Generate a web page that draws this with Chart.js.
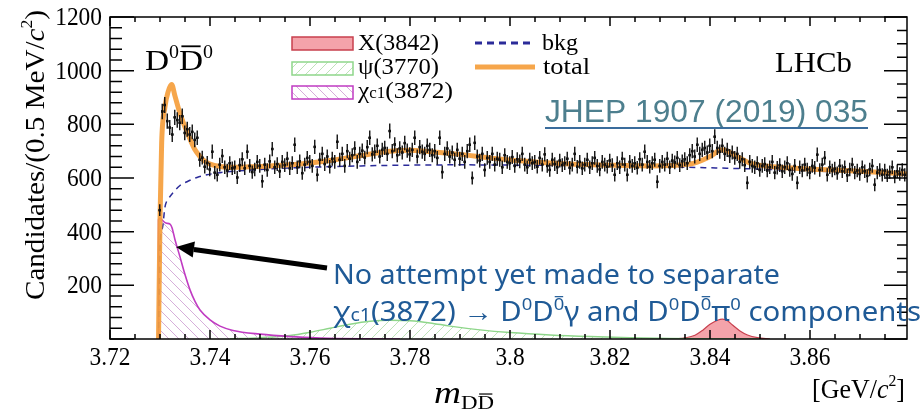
<!DOCTYPE html>
<html>
<head>
<meta charset="utf-8">
<script src="https://cdn.jsdelivr.net/npm/chart.js@4.4.1/dist/chart.umd.min.js"></script>
<style>
  html, body { margin: 0; padding: 0; background: #fff; }
  #wrap { width: 922px; height: 419px; }
</style>
</head>
<body>
<div id="wrap"><canvas id="chart" width="922" height="419"></canvas></div>
<script>
// histogram: D0 D0bar mass, 0.5 MeV bins starting at threshold
const massLow = 3.7297;
const binWidth = 0.0005;
const counts = [
  480, 848, 872, 812, 788, 762, 826, 816, 806, 830,
  768, 782, 762, 772, 742, 750, 668, 676, 642, 656,
  632, 698, 620, 612, 650, 682, 640, 628, 655, 636,
  640, 602, 648, 670, 636, 698, 645, 622, 632, 660,
  645, 588, 650, 630, 662, 708, 640, 652, 625, 660,
  648, 672, 636, 655, 724, 640, 662, 618, 650, 675,
  660, 645, 716, 612, 668, 690, 652, 680, 642, 672,
  660, 735, 668, 690, 645, 700, 672, 685, 710, 660,
  690, 702, 676, 715, 750, 688, 698, 720, 680, 705,
  712, 690, 775, 700, 725, 685, 710, 695, 730, 702,
  688, 705, 750, 680, 715, 698, 690, 720, 705, 685,
  700, 675, 750, 622, 690, 710, 680, 695, 668, 705,
  672, 690, 660, 700, 724, 600, 731, 680, 665, 690,
  630, 675, 660, 690, 650, 672, 668, 640, 685, 660,
  655, 678, 645, 670, 662, 690, 650, 640, 668, 655,
  660, 642, 675, 650, 688, 645, 630, 668, 652, 640,
  665, 648, 655, 672, 638, 650, 690, 642, 660, 636,
  650, 668, 640, 655, 675, 645, 632, 660, 650, 642,
  665, 648, 612, 655, 640, 672, 650, 612, 660, 645,
  655, 638, 670, 650, 698, 660, 642, 655, 668, 586,
  645, 660, 650, 672, 640, 665, 658, 675, 648, 662,
  670, 655, 685, 700, 680, 724, 690, 705, 712, 695,
  720, 700, 754, 712, 698, 720, 690, 705, 682, 695,
  675, 690, 660, 670, 648, 582, 660, 645, 640, 655,
  630, 645, 652, 628, 640, 660, 620, 638, 648, 625,
  640, 655, 630, 615, 645, 582, 640, 628, 650, 632,
  620, 645, 638, 687, 630, 650, 675, 612, 640, 628,
  635, 618, 645, 625, 640, 610, 632, 650, 620, 628,
  615, 640, 625, 608, 632, 645, 575, 620, 630, 612,
  628, 610, 622, 640, 605, 625, 615, 630, 612
];

// fit components
const totalX = [3.7297, 3.7300, 3.73033, 3.7310, 3.7316, 3.73233, 3.7330, 3.7340, 3.7350, 3.7360,
  3.7370, 3.7380, 3.7390, 3.7400, 3.7420, 3.7440, 3.7480, 3.7520, 3.7580, 3.7640, 3.7700, 3.7760,
  3.7800, 3.7840, 3.7900, 3.7960, 3.8020, 3.8080, 3.8180, 3.8280, 3.8360, 3.8400, 3.8424, 3.8450,
  3.8480, 3.8540, 3.8620, 3.8700, 3.8794];
const totalY = [0, 444, 731, 866, 920, 948, 905, 840, 790, 745,
  705, 680, 662, 652, 643, 640, 642, 645, 652, 665, 683, 700,
  703, 698, 688, 675, 664, 656, 648, 645, 652, 680, 705, 685,
  655, 640, 632, 625, 615];

const bkgX = [3.7297, 3.72985, 3.7300, 3.73053, 3.7310, 3.7318, 3.7326, 3.7340, 3.7354, 3.7374,
  3.7394, 3.7420, 3.7460, 3.7520, 3.7600, 3.7700, 3.7800, 3.7900, 3.8000, 3.8100, 3.8200,
  3.8300, 3.8400, 3.8500, 3.8600, 3.8700, 3.8794];
const bkgY = [0, 200, 343, 418, 492, 525, 545, 572, 586, 602,
  612, 620, 627, 634, 640, 645, 648, 649, 648, 647, 645,
  642, 638, 633, 627, 620, 613];

const chicX = [3.7297, 3.72971, 3.7300, 3.7306, 3.7312, 3.7320, 3.7324, 3.7330, 3.7340, 3.7350,
  3.7360, 3.7370, 3.7380, 3.7400, 3.7420, 3.7446, 3.7500, 3.7560, 3.7620, 3.7700, 3.7780];
const chicY = [0, 445, 450, 440, 432, 428, 415, 370, 306, 240,
  183, 140, 108, 71, 48, 32, 18, 9, 4, 1, 0];

const psiX = [3.7440, 3.7500, 3.7560, 3.7600, 3.7640, 3.7680, 3.7720, 3.7760, 3.7800, 3.7840,
  3.7880, 3.7940, 3.8000, 3.8080, 3.8160, 3.8240, 3.8320, 3.8400, 3.8500];
const psiY = [0, 5, 13, 25, 40, 55, 66, 70, 68, 60,
  48, 34, 24, 15, 9, 5, 2, 1, 0];

const x3842X = [3.8330, 3.8350, 3.8370, 3.8385, 3.8400, 3.8415, 3.8425, 3.8435, 3.8445, 3.8460,
  3.8475, 3.8495, 3.8520];
const x3842Y = [0, 4, 14, 32, 55, 70, 74, 68, 52, 30, 15, 5, 0];

const xTicks = [3.72, 3.74, 3.76, 3.78, 3.80, 3.82, 3.84, 3.86];
const yTicks = [200, 400, 600, 800, 1000, 1200];

const serif = "Liberation Serif, serif";
const sans = "Noto Sans, Liberation Sans, sans-serif";

const canvas = document.getElementById('chart');
const ctx0 = canvas.getContext('2d');

function hatch(color, dir, size) {
    const tile = document.createElement('canvas');
    tile.width = tile.height = size;
    const g = tile.getContext('2d');
    g.strokeStyle = color;
    g.lineWidth = 1;
    g.beginPath();
    for (let k = -size; k <= size; k += size) {
        if (dir > 0) { g.moveTo(k, size); g.lineTo(k + size, 0); }
        else { g.moveTo(k, 0); g.lineTo(k + size, size); }
    }
    g.stroke();
    return ctx0.createPattern(tile, 'repeat');
}

const pts = (xs, ys) => xs.map((v, i) => ({ x: v, y: ys[i] }));

// text made of runs, squeezed/stretched to a given width (or by a factor)
function drawRuns(ctx, runs, x, y, fit, squeeze) {
    let w = 0;
    runs.forEach(r => {
        ctx.font = (r.it ? 'italic ' : '') + r.size + 'px ' + r.fam;
        r.w = ctx.measureText(r.t).width;
        w += r.w;
    });
    const sx = fit ? fit / w : (squeeze || 1);
    ctx.save();
    ctx.translate(x, y);
    ctx.scale(sx, 1);
    let cx = 0;
    runs.forEach(r => {
        ctx.font = (r.it ? 'italic ' : '') + r.size + 'px ' + r.fam;
        const dy = r.dy || 0;
        ctx.fillText(r.t, cx, dy);
        if (r.bar) {
            ctx.fillRect(cx + r.w * 0.1, dy - r.size * 0.82, r.w * 0.8, Math.max(1.2, r.size * 0.06));
        }
        cx += r.w;
    });
    ctx.restore();
    return w * sx;
}

const S = (t, size, o) => Object.assign({ t: t, size: size, fam: serif }, o || {});
const N = (t, size, o) => Object.assign({ t: t, size: size, fam: sans }, o || {});

const decor = {
    id: 'decor',
    afterDatasetsDraw(chart) {
        const { ctx, chartArea: a, scales: { x, y } } = chart;

        // error bars
        ctx.save();
        ctx.beginPath();
        ctx.rect(a.left, a.top, a.right - a.left, a.bottom - a.top);
        ctx.clip();
        ctx.strokeStyle = '#111';
        ctx.lineWidth = 1.4;
        ctx.beginPath();
        counts.forEach((n, i) => {
            const m = massLow + binWidth * (i + 0.5);
            const e = Math.sqrt(n);
            const px = x.getPixelForValue(m);
            const py = y.getPixelForValue(n);
            ctx.moveTo(px, y.getPixelForValue(n - e));
            ctx.lineTo(px, y.getPixelForValue(n + e));
            ctx.moveTo(x.getPixelForValue(m - binWidth / 2), py);
            ctx.lineTo(x.getPixelForValue(m + binWidth / 2), py);
        });
        ctx.stroke();
        ctx.restore();

        // frame and inward ticks
        ctx.save();
        ctx.strokeStyle = '#000';
        ctx.lineWidth = 1.5;
        ctx.strokeRect(a.left, a.top, a.right - a.left, a.bottom - a.top);
        ctx.beginPath();
        for (let k = 0; ; k++) {
            const v = 3.72 + k * 0.005;
            if (v > x.max) break;
            const px = x.getPixelForValue(v);
            const len = k % 4 === 0 ? 9 : 5;
            ctx.moveTo(px, a.bottom); ctx.lineTo(px, a.bottom - len);
            ctx.moveTo(px, a.top); ctx.lineTo(px, a.top + len);
        }
        for (let v = 0; v <= 1200; v += 40) {
            const py = y.getPixelForValue(v);
            const len = v % 200 === 0 ? 24 : 12;
            ctx.moveTo(a.left, py); ctx.lineTo(a.left + len, py);
        }
        for (let v = 0; v <= 1200; v += 50) {
            const py = y.getPixelForValue(v);
            const len = v % 200 === 0 ? 23 : 10;
            ctx.moveTo(a.right, py); ctx.lineTo(a.right - len, py);
        }
        ctx.stroke();

        // tick labels from the scales' own ticks
        ctx.fillStyle = '#000';
        ctx.textBaseline = 'alphabetic';
        const fs = 26, sq = 0.9;
        x.ticks.forEach(t => {
            const lbl = String(+t.value.toFixed(2));
            ctx.font = fs + 'px ' + serif;
            const w = ctx.measureText(lbl).width * sq;
            drawRuns(ctx, [S(lbl, fs)], x.getPixelForValue(t.value) - w / 2, a.bottom + 26, 0, sq);
        });
        y.ticks.forEach(t => {
            const lbl = String(t.value);
            ctx.font = fs + 'px ' + serif;
            const w = ctx.measureText(lbl).width * sq;
            drawRuns(ctx, [S(lbl, fs)], a.left - 8 - w, y.getPixelForValue(t.value) + 8, 0, sq);
        });
        ctx.restore();
    },
    afterDraw(chart) {
        const ctx = chart.ctx;
        const ds = chart.data.datasets;
        ctx.save();
        ctx.fillStyle = '#000';
        ctx.textBaseline = 'alphabetic';

        // y title, rotated
        ctx.save();
        ctx.translate(44, 300);
        ctx.rotate(-Math.PI / 2);
        drawRuns(ctx, [S('Candidates/(0.5 MeV/', 28), S('c', 28, { it: true }), S('2', 17, { dy: -12 }), S(')', 28)], 0, 0, 290);
        ctx.restore();

        // x title
        drawRuns(ctx, [S('m', 31, { it: true }), S('D', 19, { dy: 6 }), S('D', 19, { dy: 6, bar: true })], 434, 403, 60);
        drawRuns(ctx, [S('[GeV/', 28), S('c', 28, { it: true }), S('2', 17, { dy: -12 }), S(']', 28)], 812, 398, 93);

        // labels inside the frame
        drawRuns(ctx, [S('LHCb', 30)], 775, 72, 77);
        drawRuns(ctx, [S('D', 30), S('0', 18, { dy: -12 }), S('D', 30, { bar: true }), S('0', 18, { dy: -12 })], 145, 70, 68);

        // legend
        const boxes = [[ds[5], 37], [ds[4], 62], [ds[3], 86]];
        boxes.forEach(([d, top]) => {
            ctx.fillStyle = '#fff';
            ctx.fillRect(292, top, 61, 13);
            ctx.fillStyle = d.backgroundColor;
            ctx.fillRect(292, top, 61, 13);
            ctx.strokeStyle = d.borderColor;
            ctx.lineWidth = 1.5;
            ctx.strokeRect(292, top, 61, 13);
        });
        ctx.fillStyle = '#000';
        drawRuns(ctx, [S('X(3842)', 24)], 358, 50, 81);
        drawRuns(ctx, [S('\u03c8(3770)', 24)], 358, 74, 81);
        drawRuns(ctx, [S('\u03c7', 24), S('c1', 16), S('(3872)', 24)], 358, 98, 95);

        ctx.strokeStyle = ds[2].borderColor;
        ctx.lineWidth = 3;
        ctx.setLineDash([7, 5]);
        ctx.beginPath(); ctx.moveTo(475, 43); ctx.lineTo(531, 43); ctx.stroke();
        ctx.setLineDash([]);
        ctx.strokeStyle = ds[1].borderColor;
        ctx.lineWidth = 5;
        ctx.beginPath(); ctx.moveTo(475, 67); ctx.lineTo(535, 67); ctx.stroke();
        ctx.fillStyle = '#000';
        drawRuns(ctx, [S('bkg', 24)], 542, 50, 36);
        drawRuns(ctx, [S('total', 24)], 543, 74, 47);

        // reference link
        ctx.fillStyle = '#4D7F8E';
        drawRuns(ctx, [{ t: 'JHEP 1907 (2019) 035', size: 31, fam: "Liberation Sans, Arial, sans-serif" }], 545, 122, 323);
        ctx.fillStyle = '#3A6C9C';
        ctx.fillRect(545, 127, 323, 2);

        // arrow
        ctx.strokeStyle = '#000';
        ctx.fillStyle = '#000';
        ctx.lineWidth = 5;
        const tip = [176, 247], tail = [327, 268];
        const ang = Math.atan2(tail[1] - tip[1], tail[0] - tip[0]);
        const hx = tip[0] + Math.cos(ang) * 18, hy = tip[1] + Math.sin(ang) * 18;
        ctx.beginPath(); ctx.moveTo(hx, hy); ctx.lineTo(tail[0], tail[1]); ctx.stroke();
        ctx.beginPath();
        ctx.moveTo(tip[0], tip[1]);
        ctx.lineTo(hx - Math.sin(ang) * 8, hy + Math.cos(ang) * 8);
        ctx.lineTo(hx + Math.sin(ang) * 8, hy - Math.cos(ang) * 8);
        ctx.closePath(); ctx.fill();

        // annotation
        ctx.fillStyle = '#1F5A96';
        drawRuns(ctx, [N('No attempt yet made to separate', 27)], 333, 284, 447);
        drawRuns(ctx, [
            N('\u03c7', 27), N('c1', 18), N('(3872) \u2192 D', 27), N('0', 17, { dy: -11 }),
            N('D', 27), N('0', 17, { dy: -11, bar: true }), N('\u03b3 and D', 27), N('0', 17, { dy: -11 }),
            N('D', 27), N('0', 17, { dy: -11, bar: true }), N('\u03c0', 27), N('0', 17, { dy: -11 }),
            N(' components', 27)
        ], 333, 321, 588);
        ctx.restore();
    }
};

const chicHatch = hatch('#D6AEDA', -1, 10);
const psiHatch = hatch('#BFE3BA', 1, 10);

new Chart(canvas, {
    type: 'line',
    data: {
        datasets: [
            {
                label: 'data',
                data: counts.map((n, i) => ({ x: massLow + binWidth * (i + 0.5), y: n })),
                showLine: false,
                pointRadius: 1.8,
                pointStyle: 'rect',
                pointBackgroundColor: '#000',
                pointBorderColor: '#000',
                pointBorderWidth: 0,
                order: 0
            },
            {
                label: 'total',
                data: pts(totalX, totalY),
                borderColor: 'rgba(245,158,60,0.92)',
                borderWidth: 5,
                fill: false,
                cubicInterpolationMode: 'monotone',
                order: 1
            },
            {
                label: 'bkg',
                data: pts(bkgX, bkgY),
                borderColor: '#2B2B99',
                borderWidth: 1.5,
                borderDash: [6, 5],
                fill: false,
                cubicInterpolationMode: 'monotone',
                order: 2
            },
            {
                label: '\u03c7c1(3872)',
                data: pts(chicX, chicY),
                borderColor: '#C03BC2',
                borderWidth: 1.6,
                backgroundColor: chicHatch,
                fill: 'origin',
                cubicInterpolationMode: 'monotone',
                order: 3
            },
            {
                label: '\u03c8(3770)',
                data: pts(psiX, psiY),
                borderColor: '#8ED68A',
                borderWidth: 1.5,
                backgroundColor: psiHatch,
                fill: 'origin',
                cubicInterpolationMode: 'monotone',
                order: 4
            },
            {
                label: 'X(3842)',
                data: pts(x3842X, x3842Y),
                borderColor: '#C8404E',
                borderWidth: 1.2,
                backgroundColor: '#F4A3AA',
                fill: 'origin',
                cubicInterpolationMode: 'monotone',
                order: 5
            }
        ]
    },
    options: {
        responsive: false,
        animation: false,
        events: [],
        layout: { padding: { top: 17, right: 15, left: 0, bottom: 0 } },
        elements: { point: { radius: 0 } },
        plugins: {
            legend: { display: false },
            tooltip: { enabled: false }
        },
        scales: {
            x: {
                type: 'linear',
                min: 3.72,
                max: 3.8794,
                afterBuildTicks: s => { s.ticks = xTicks.map(v => ({ value: v })); },
                afterFit: s => { s.height = 80; },
                grid: { display: false, drawTicks: false },
                border: { display: false },
                ticks: { display: false }
            },
            y: {
                min: 0,
                max: 1200,
                afterBuildTicks: s => { s.ticks = yTicks.map(v => ({ value: v })); },
                afterFit: s => { s.width = 110; },
                grid: { display: false, drawTicks: false },
                border: { display: false },
                ticks: { display: false }
            }
        }
    },
    plugins: [decor]
});
</script>
</body>
</html>
